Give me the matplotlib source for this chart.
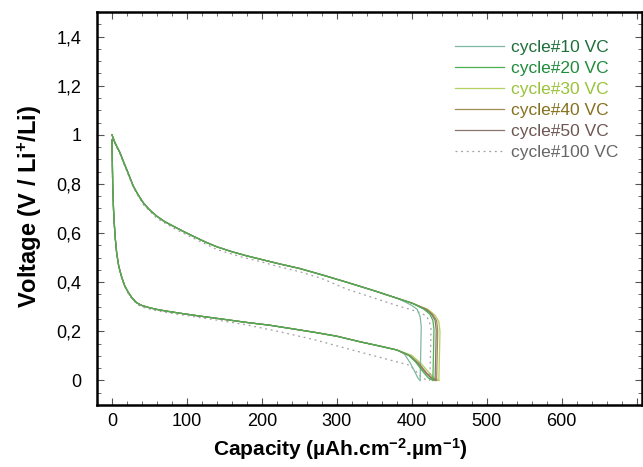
import matplotlib
matplotlib.use("Agg")
import matplotlib.pyplot as plt
from matplotlib.ticker import MultipleLocator, FixedLocator

plt.rcParams['font.family'] = ['Liberation Sans', 'DejaVu Sans']
plt.rcParams['mathtext.fontset'] = 'custom'
plt.rcParams['mathtext.rm'] = 'Liberation Sans:bold'
plt.rcParams['mathtext.bf'] = 'Liberation Sans:bold'
plt.rcParams['mathtext.default'] = 'bf'

# --- données ---
labels = ["cycle#10 VC", "cycle#20 VC", "cycle#30 VC",
          "cycle#40 VC", "cycle#50 VC", "cycle#100 VC"]
line_colors = ['#7fb8a0', '#4caf50', '#b4d060', '#a08c50', '#8a7470', '#a0a0a0']
text_colors = ['#1e6e3a', '#1f8c3a', '#9ac23a', '#86701e', '#6e5752', '#666666']
draw_order = [3, 6, 2, 4, 5]

# décharge (partie commune aux cycles 10-50)
dis_c = [0, 0.5, 1, 2, 3, 4.5, 6.2, 9, 13, 17, 22, 27, 33, 40, 50, 60, 73,
         90, 117, 144, 180, 210, 237, 270, 300, 330, 360, 380]
dis_v = [0.98, 0.88, 0.79, 0.70, 0.64, 0.575, 0.52, 0.465, 0.42, 0.385,
         0.357, 0.335, 0.316, 0.305, 0.296, 0.289, 0.282, 0.274, 0.262, 0.251,
         0.236, 0.225, 0.212, 0.196, 0.18, 0.158, 0.138, 0.124]

# charge (partie commune, de droite à gauche)
up_c = [380, 350, 313, 280, 250, 224, 200, 180, 160, 140, 125, 108.4, 95,
        81.8, 70, 59.6, 50, 41.8, 35, 28.4, 24, 19.6, 15, 10.7, 6, 3, 0]
up_v = [0.335, 0.365, 0.40, 0.43, 0.456, 0.474, 0.492, 0.507, 0.524, 0.544,
        0.563, 0.587, 0.607, 0.628, 0.647, 0.669, 0.695, 0.723, 0.755, 0.791,
        0.825, 0.859, 0.893, 0.927, 0.955, 0.975, 1.0]

# fins de courbe propres à chaque cycle
dis_tail_c = {
    10: [390, 398, 404, 408, 411],
    20: [395, 405, 415, 422, 428],
    30: [400, 412, 422, 430, 436],
    40: [398, 410, 420, 428, 433],
    50: [397, 408, 418, 426, 431],
}
dis_tail_v = {
    10: [0.108, 0.07, 0.035, 0.01, 0.0],
    20: [0.105, 0.075, 0.035, 0.01, 0.0],
    30: [0.102, 0.07, 0.035, 0.01, 0.0],
    40: [0.10, 0.068, 0.03, 0.008, 0.0],
    50: [0.10, 0.07, 0.032, 0.008, 0.0],
}
ch_tail_c = {
    10: [411, 412, 412.5, 411, 407, 400, 392],
    20: [428, 429, 429.5, 428, 424, 416, 400],
    30: [436, 437, 437.5, 436, 431, 422, 400],
    40: [433, 434, 434.5, 433, 428, 420, 400],
    50: [431, 432, 432.5, 431, 426, 418, 400],
}
ch_tail_v = {
    10: [0.0, 0.14, 0.22, 0.26, 0.29, 0.305, 0.318],
    20: [0.0, 0.13, 0.21, 0.245, 0.27, 0.29, 0.315],
    30: [0.0, 0.13, 0.2, 0.24, 0.265, 0.288, 0.315],
    40: [0.0, 0.13, 0.205, 0.243, 0.268, 0.29, 0.315],
    50: [0.0, 0.13, 0.205, 0.245, 0.27, 0.29, 0.315],
}

# cycle 100 (pointillés)
c100_dis_c = [0, 0.5, 1, 2, 3, 4.5, 6.5, 9.5, 13.5, 18, 23, 28, 34, 41, 51,
              61, 74, 91, 117, 144, 180, 224, 270, 313, 360, 397, 405, 412,
              418, 424]
c100_dis_v = [0.97, 0.87, 0.78, 0.69, 0.63, 0.565, 0.51, 0.455, 0.41, 0.375,
              0.348, 0.327, 0.309, 0.298, 0.29, 0.283, 0.276, 0.268, 0.256,
              0.244, 0.226, 0.198, 0.166, 0.13, 0.092, 0.062, 0.038, 0.016,
              0.004, 0.0]
c100_ch_c = [424, 425, 425.5, 423, 418, 410, 397, 380, 350, 313, 280, 250,
             224, 200, 170, 140, 110, 82, 60, 42, 29, 20, 11, 6, 3, 0]
c100_ch_v = [0.0, 0.13, 0.21, 0.245, 0.265, 0.277, 0.29, 0.305, 0.335,
             0.372, 0.415, 0.443, 0.462, 0.482, 0.505, 0.533, 0.577, 0.62,
             0.66, 0.715, 0.782, 0.85, 0.92, 0.95, 0.972, 0.995]

cycles = [10, 20, 30, 40, 50]

fig = plt.figure(figsize=(6.43, 4.67), dpi=100)
ax = fig.add_axes([97 / 643, 1 - 405 / 467, 545 / 643, 393 / 467])

handles = []
for i, cy in enumerate(cycles):
    x = dis_c + dis_tail_c[cy]
    y = dis_v + dis_tail_v[cy]
    h, = ax.plot(x, y, color=line_colors[i], lw=0.9, zorder=draw_order[i])
    ax.plot(ch_tail_c[cy] + up_c, ch_tail_v[cy] + up_v, color=line_colors[i],
            lw=0.9, zorder=draw_order[i])
    handles.append(h)

h, = ax.plot(c100_dis_c, c100_dis_v, color=line_colors[5], lw=0.9, ls=(0, (1.5, 3)))
ax.plot(c100_ch_c, c100_ch_v, color=line_colors[5], lw=0.9, ls=(0, (1.5, 3)))
handles.append(h)

ax.set_xlim(-20, 707)
ax.set_ylim(-0.1, 1.5)

ax.xaxis.set_major_locator(FixedLocator([0, 100, 200, 300, 400, 500, 600, 700]))
ax.xaxis.set_minor_locator(MultipleLocator(20))
ax.set_xticklabels(["0", "100", "200", "300", "400", "500", "600", ""])
yt = [0, 0.2, 0.4, 0.6, 0.8, 1.0, 1.2, 1.4]
ax.yaxis.set_major_locator(FixedLocator(yt))
ax.set_yticklabels(["0", "0,2", "0,4", "0,6", "0,8", "1", "1,2", "1,4"])
ax.yaxis.set_minor_locator(MultipleLocator(0.05))

ax.tick_params(which='both', direction='in', top=True, right=True,
               color='#555555', labelsize=13)
ax.tick_params(which='major', length=5, width=0.8)
ax.tick_params(which='minor', length=3, width=0.6)
ax.tick_params(axis='y', pad=11)
ax.tick_params(axis='x', pad=6)
for s in ax.spines.values():
    s.set_linewidth(1.8)

ax.set_xlabel("Capacity (µAh.cm$^{-2}$.µm$^{-1}$)", fontsize=15, fontweight='bold')
ax.set_ylabel("Voltage (V / Li$^{+}$/Li)", fontsize=17, fontweight='bold')
ax.xaxis.set_label_coords(0.446, -0.08)
ax.yaxis.set_label_coords(-0.098, 0.505)

leg = ax.legend(handles, labels, loc='upper left',
                bbox_to_anchor=(455 / 643, 1 - 40 / 467),
                bbox_transform=fig.transFigure, frameon=False, fontsize=12.5,
                labelspacing=0.34, handlelength=2.8, handletextpad=0.45,
                borderpad=0, borderaxespad=0)
for t, c in zip(leg.get_texts(), text_colors):
    t.set_color(c)

fig.savefig("out.png", dpi=100)
